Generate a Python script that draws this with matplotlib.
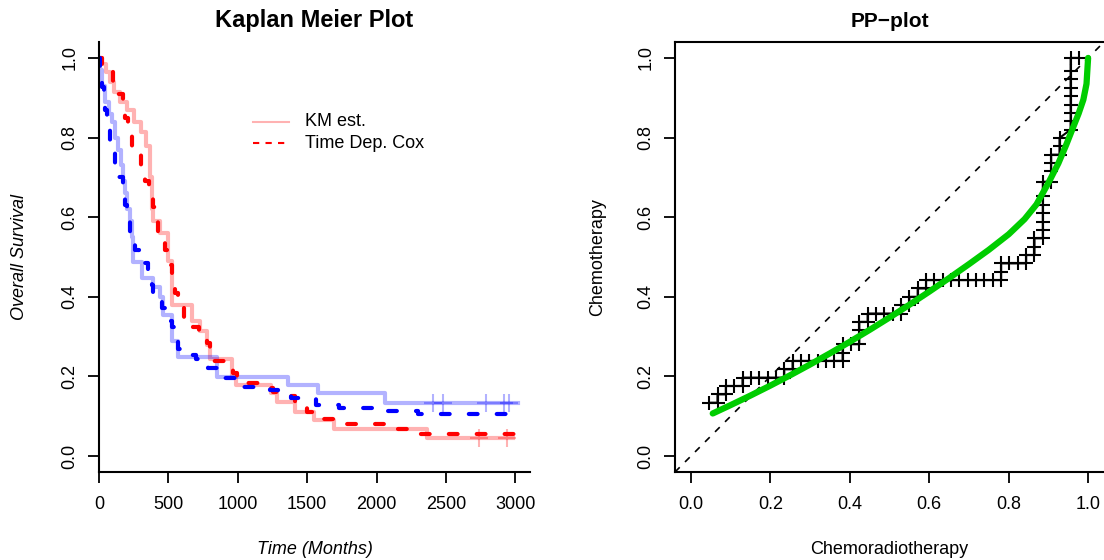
"""Kaplan Meier plot with time dependent Cox estimates, next to a PP-plot."""

import matplotlib
matplotlib.use("Agg")
import matplotlib.pyplot as plt

plt.rcParams["font.family"] = ["Liberation Sans", "DejaVu Sans"]

# --- Kaplan Meier estimates (time in months, survival) ---
km_red_t = [0, 20, 50, 80, 110, 150, 200, 250, 300, 340, 370, 385, 390, 440, 500,
            525, 670, 727, 775, 800, 960, 990, 1240, 1280, 1410, 1550, 1690, 2360, 2980]
km_red_s = [1.0, 0.985, 0.965, 0.94, 0.915, 0.89, 0.87, 0.84, 0.815, 0.78, 0.70, 0.62,
            0.59, 0.56, 0.49, 0.38, 0.34, 0.315, 0.28, 0.245, 0.20, 0.178, 0.158, 0.137,
            0.111, 0.090, 0.067, 0.046, 0.046]
km_red_cens_t = [2740, 2940]
km_red_cens_s = [0.046, 0.046]

km_blue_t = [0, 10, 25, 45, 70, 91, 115, 137, 155, 173, 190, 201, 220, 237, 245, 309,
             388, 439, 460, 525, 568, 849, 1360, 1576, 2058, 3015]
km_blue_s = [1.0, 0.97, 0.93, 0.89, 0.86, 0.84, 0.80, 0.77, 0.73, 0.69, 0.66, 0.62,
             0.59, 0.55, 0.487, 0.447, 0.425, 0.40, 0.354, 0.29, 0.249, 0.199, 0.178,
             0.158, 0.134, 0.134]
km_blue_cens_t = [2403, 2475, 2790, 2920, 2957]
km_blue_cens_s = [0.134, 0.134, 0.134, 0.134, 0.134]

# --- time dependent Cox estimates ---
cox_red_t = [0, 20, 50, 101, 140, 173, 190, 209, 240, 259, 300, 331, 360, 389, 410,
             424, 450, 475, 500, 525, 545, 568, 610, 655, 676, 720, 777, 800, 813, 900,
             964, 993, 1215, 1250, 1300, 1410, 1500, 1568, 1690, 2100, 2300, 2993]
cox_red_s = [1.0, 0.985, 0.965, 0.937, 0.91, 0.887, 0.85, 0.814, 0.78, 0.756, 0.72,
             0.69, 0.66, 0.626, 0.59, 0.56, 0.54, 0.518, 0.48, 0.442, 0.41, 0.375, 0.35,
             0.34, 0.325, 0.30, 0.284, 0.26, 0.24, 0.225, 0.208, 0.183, 0.172, 0.162,
             0.150, 0.123, 0.11, 0.093, 0.08, 0.068, 0.055, 0.055]

cox_blue_t = [0, 10, 22, 35, 43, 60, 79, 95, 115, 140, 173, 185, 201, 220, 245, 259,
              290, 316, 352, 370, 381, 388, 420, 453, 475, 500, 525, 547, 570, 583, 700,
              748, 784, 856, 1014, 1230, 1288, 1380, 1560, 1730, 2030, 2300, 2990]
cox_blue_s = [1.0, 0.96, 0.927, 0.90, 0.87, 0.83, 0.79, 0.76, 0.726, 0.70, 0.663, 0.63,
              0.588, 0.56, 0.535, 0.518, 0.50, 0.485, 0.467, 0.45, 0.43, 0.404, 0.39,
              0.372, 0.354, 0.34, 0.324, 0.296, 0.27, 0.254, 0.245, 0.236, 0.221, 0.196,
              0.173, 0.166, 0.158, 0.146, 0.128, 0.121, 0.113, 0.105, 0.105]

# --- PP-plot: empirical points and fitted curve ---
pp_u = [0.046, 0.067, 0.067, 0.088, 0.088, 0.109, 0.130, 0.130, 0.151, 0.172, 0.193,
        0.214, 0.235, 0.235, 0.256, 0.256, 0.277, 0.298, 0.319, 0.340, 0.361, 0.382,
        0.382, 0.382, 0.403, 0.424, 0.424, 0.424, 0.445, 0.445, 0.466, 0.487, 0.508,
        0.529, 0.529, 0.550, 0.550, 0.571, 0.571, 0.592, 0.592, 0.613, 0.634, 0.655,
        0.676, 0.697, 0.718, 0.739, 0.760, 0.781, 0.781, 0.781, 0.802, 0.823, 0.844,
        0.844, 0.865, 0.865, 0.865, 0.886, 0.886, 0.886, 0.886, 0.886, 0.886, 0.886,
        0.907, 0.907, 0.907, 0.907, 0.928, 0.928, 0.928, 0.956, 0.956, 0.956, 0.956,
        0.956, 0.956, 0.956, 0.956, 0.956, 0.977]
pp_v = [0.134, 0.134, 0.155, 0.155, 0.176, 0.176, 0.176, 0.197, 0.197, 0.197, 0.197,
        0.197, 0.197, 0.218, 0.218, 0.239, 0.239, 0.239, 0.239, 0.239, 0.239, 0.239,
        0.260, 0.281, 0.281, 0.281, 0.316, 0.337, 0.337, 0.358, 0.358, 0.358, 0.358,
        0.358, 0.379, 0.379, 0.400, 0.400, 0.421, 0.421, 0.442, 0.442, 0.442, 0.442,
        0.442, 0.442, 0.442, 0.442, 0.442, 0.442, 0.463, 0.484, 0.484, 0.484, 0.484,
        0.505, 0.505, 0.526, 0.547, 0.547, 0.568, 0.589, 0.610, 0.631, 0.652, 0.689,
        0.689, 0.715, 0.736, 0.757, 0.757, 0.778, 0.799, 0.820, 0.841, 0.862, 0.883,
        0.904, 0.925, 0.946, 0.967, 1.0, 1.0]

fit_u = [0.055, 0.10, 0.15, 0.20, 0.25, 0.30, 0.35, 0.40, 0.45, 0.50, 0.55, 0.60,
         0.65, 0.70, 0.75, 0.80, 0.84, 0.87, 0.90, 0.925, 0.945, 0.962, 0.976, 0.988,
         0.996, 1.0]
fit_v = [0.107, 0.128, 0.152, 0.177, 0.203, 0.230, 0.258, 0.287, 0.317, 0.348, 0.380,
         0.413, 0.447, 0.482, 0.518, 0.557, 0.595, 0.632, 0.686, 0.735, 0.782, 0.825,
         0.860, 0.895, 0.935, 1.0]

fig = plt.figure(figsize=(11.04, 5.6), dpi=100)
W, H = 1104, 560
ax1 = fig.add_axes([99 / W, 88 / H, 431 / W, 430 / H])
ax2 = fig.add_axes([675 / W, 88 / H, 429 / W, 430 / H])

# ---------- Kaplan Meier panel ----------
dash = dict(lw=3, dashes=(2.1, 4.6), dash_capstyle="round")
ax1.step(km_red_t, km_red_s, where="post", color="red", alpha=0.3, lw=3)
ax1.step(km_blue_t, km_blue_s, where="post", color="blue", alpha=0.3, lw=3)
ax1.plot(km_red_cens_t, km_red_cens_s, "+", color="red", alpha=0.3, ms=13, mew=1.5)
ax1.plot(km_blue_cens_t, km_blue_cens_s, "+", color="blue", alpha=0.3, ms=13, mew=1.5)
ax1.step(cox_red_t, cox_red_s, where="post", color="red", **dash)
ax1.step(cox_blue_t, cox_blue_s, where="post", color="blue", **dash)

ax1.set_xlim(0, 3105)
ax1.set_ylim(-0.04, 1.04)
ax1.set_xticks(range(0, 3001, 500))
ax1.set_yticks([0, 0.2, 0.4, 0.6, 0.8, 1.0])
ax1.set_yticklabels(["0.0", "0.2", "0.4", "0.6", "0.8", "1.0"])
for side in ("top", "right"):
    ax1.spines[side].set_visible(False)
ax1.set_title("Kaplan Meier Plot", fontsize=17, fontweight="bold", pad=11)
ax1.set_xlabel("Time (Months)", fontsize=13, style="italic", va="center")
ax1.xaxis.set_label_coords(0.5, -(549 - 472) / 430)
ax1.set_ylabel("Overall Survival", fontsize=13, style="italic", va="center")
ax1.yaxis.set_label_coords((20 - 99) / 431, 0.5)

# legend drawn by hand, no frame
for y, kw, label in [(0.815, dict(color="red", alpha=0.3, lw=1.5), "KM est."),
                     (0.764, dict(color="red", lw=1.5, dashes=(3, 3)), "Time Dep. Cox")]:
    ax1.plot([0.357, 0.441], [y, y], transform=ax1.transAxes, **kw)
    ax1.text(0.478, y, label, transform=ax1.transAxes, fontsize=13, va="center")

# ---------- PP panel ----------
ax2.axline((0, 0), (1, 1), color="black", lw=1.2, dashes=(4, 4.5))
ax2.plot(pp_u, pp_v, "-+", color="black", lw=1.5, ms=10, mew=1.5)
ax2.plot(fit_u, fit_v, color="#00CD00", lw=4.5, solid_capstyle="round",
         solid_joinstyle="round")

ax2.set_xlim(-0.04, 1.04)
ax2.set_ylim(-0.04, 1.04)
ticks = [0, 0.2, 0.4, 0.6, 0.8, 1.0]
labels = ["0.0", "0.2", "0.4", "0.6", "0.8", "1.0"]
ax2.set_xticks(ticks)
ax2.set_xticklabels(labels)
ax2.set_yticks(ticks)
ax2.set_yticklabels(labels)
ax2.spines["right"].set_visible(False)
ax2.set_title("PP\u2212plot", fontsize=15, fontweight="bold", pad=11)
ax2.set_xlabel("Chemoradiotherapy", fontsize=13, va="center")
ax2.xaxis.set_label_coords(0.5, -(549 - 472) / 430)
ax2.set_ylabel("Chemotherapy", fontsize=13, va="center")
ax2.yaxis.set_label_coords((598 - 675) / 429, 0.5)

for ax in (ax1, ax2):
    for sp in ax.spines.values():
        sp.set_linewidth(1.5)
    ax.tick_params(length=8, width=1.3, labelsize=13)
    ax.tick_params(axis="x", pad=9)
    ax.tick_params(axis="y", pad=7, labelrotation=90)
    for lab in ax.get_yticklabels():
        lab.set_va("center")

fig.savefig("out.png", dpi=100)
